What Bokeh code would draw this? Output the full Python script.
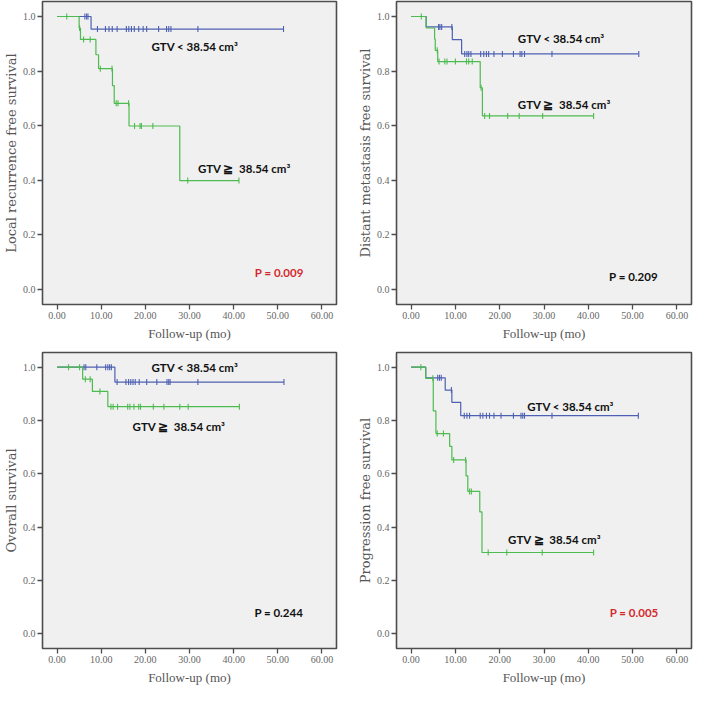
import numpy as np
from bokeh.plotting import figure
from bokeh.layouts import column, row
from bokeh.models import Range1d, FixedTicker, NumeralTickFormatter, Label
from bokeh.embed import file_html
from bokeh.resources import INLINE

# ---------------- data ----------------
x_ticks = [0, 10, 20, 30, 40, 50, 60]
y_ticks = [0.0, 0.2, 0.4, 0.6, 0.8, 1.0]

y_titles = ["Local recurrence free survival", "Distant metastasis free survival",
            "Overall survival", "Progression free survival"]
x_title = "Follow-up (mo)"
label_low = "GTV < 38.54 cm\u00b3"
label_high = "GTV \u2267\u00a0 38.54 cm\u00b3"
p_values = ["P = 0.009", "P = 0.209", "P = 0.244", "P = 0.005"]

# Local recurrence free survival
lrfs_low_t = [7.7]
lrfs_low_s = [0.954]
lrfs_low_c = [6.3, 6.7, 7.0, 9.15, 10.96, 11.76, 12.5, 13.6, 15.7, 16.25, 16.85, 17.5,
              18.5, 19.5, 20.3, 23.0, 24.8, 25.3, 25.8, 31.9, 51.3]
lrfs_high_t = [5.0, 5.3, 8.8, 9.4, 12.55, 12.95, 16.3, 27.8]
lrfs_high_s = [0.958, 0.916, 0.860, 0.809, 0.747, 0.682, 0.599, 0.399]
lrfs_high_c = [2.2, 5.1, 6.0, 7.5, 9.8, 12.45, 13.4, 13.8, 16.2, 17.55, 18.8, 19.1,
               21.7, 29.6, 41.2]

# Distant metastasis free survival
dmfs_low_t = [3.4, 9.3, 11.4]
dmfs_low_s = [0.962, 0.915, 0.863]
dmfs_low_c = [6.2, 6.5, 6.9, 9.2, 12.1, 12.6, 13.0, 13.5, 15.7, 16.4, 17.0, 17.5, 18.7,
              20.6, 23.1, 24.6, 25.0, 25.6, 31.8, 51.4]
dmfs_high_t = [3.4, 5.3, 5.45, 6.0, 15.6, 16.1]
dmfs_high_s = [0.958, 0.917, 0.876, 0.835, 0.739, 0.636]
dmfs_high_c = [2.3, 5.9, 6.3, 7.6, 8.1, 10.0, 12.5, 13.0, 13.8, 15.8, 16.6, 17.7, 21.8,
               24.4, 29.7, 41.2]

# Overall survival
os_low_t = [13.1]
os_low_s = [0.944]
os_low_c = [6.1, 6.5, 9.0, 11.0, 11.5, 11.9, 12.3, 13.6, 15.6, 16.2, 16.7, 17.2, 17.7,
            18.6, 20.3, 22.6, 24.9, 25.3, 25.6, 31.9, 51.4]
os_high_t = [5.8, 8.0, 11.5]
os_high_s = [0.955, 0.909, 0.852]
os_high_c = [2.6, 5.1, 6.4, 7.5, 9.7, 12.2, 12.7, 13.7, 16.0, 16.5, 17.4, 18.5, 18.9,
             21.8, 24.2, 27.8, 29.7, 41.3]

# Progression free survival
pfs_low_t = [3.3, 7.7, 9.2, 11.2]
pfs_low_s = [0.960, 0.914, 0.868, 0.818]
pfs_low_c = [6.0, 6.4, 6.8, 9.1, 12.0, 12.6, 13.2, 15.6, 16.2, 17.0, 17.7, 18.7, 20.3,
             23.1, 24.8, 25.2, 25.6, 31.8, 51.3]
pfs_high_t = [3.3, 5.0, 5.6, 8.7, 9.2, 12.4, 12.8, 15.5, 16.0]
pfs_high_s = [0.958, 0.836, 0.751, 0.703, 0.652, 0.592, 0.534, 0.457, 0.305]
pfs_high_c = [2.2, 4.9, 5.9, 7.3, 9.6, 12.3, 13.2, 13.6, 17.4, 21.6, 29.6, 41.2]

# ---------------- styling ----------------
BLUE = "#4d60b1"
GREEN = "#4dbb4f"
RED = "#d42a2e"
SERIF = "Liberation Serif"
SERIF_WIDE = "DejaVu Serif"
SANS = "Lato"


def surv_at(t, et, es):
    s = 1.0
    for ti, si in zip(et, es):
        if ti <= t:
            s = si
    return s


def add_curve(p, et, es, ct, color):
    last = max(ct + et)
    xs = [0.0] + list(et) + [last]
    ys = [1.0] + list(es) + [es[-1]]
    p.step(xs, ys, mode="after", line_color=color, line_width=1.2)
    cy = [surv_at(t, et, es) for t in ct]
    p.scatter(ct, cy, marker="dash", angle=np.pi / 2, size=6, line_color=color,
              line_width=1.1)


def make_fig(width, height, mbl, mbr, mbt, ytitle):
    p = figure(width=width, height=height, output_backend="svg", toolbar_location=None,
               x_range=Range1d(-3.3, 63.3), y_range=Range1d(-0.055, 1.055),
               min_border_left=mbl, min_border_right=mbr, min_border_top=mbt,
               min_border_bottom=0)
    p.background_fill_color = "#f0f0f0"
    p.border_fill_color = "white"
    p.outline_line_color = "#4d4d4d"
    p.outline_line_width = 1.6
    p.grid.visible = False
    p.xaxis.ticker = FixedTicker(ticks=x_ticks)
    p.yaxis.ticker = FixedTicker(ticks=y_ticks)
    p.xaxis.formatter = NumeralTickFormatter(format="0.00")
    p.yaxis.formatter = NumeralTickFormatter(format="0.0")
    for ax in (p.xaxis, p.yaxis):
        ax.axis_line_color = None
        ax.major_tick_in = 0
        ax.major_tick_out = 5
        ax.major_tick_line_color = "#4d4d4d"
        ax.major_tick_line_width = 1.3
        ax.minor_tick_line_color = None
        ax.major_label_text_font = SERIF
        ax.major_label_text_font_size = "10px"
        ax.major_label_text_color = "#666666"
        ax.axis_label_text_font_style = "normal"
        ax.axis_label_text_color = "#555555"
        ax.major_label_standoff = 2
    p.xaxis.axis_label = x_title
    p.xaxis.axis_label_text_font = SERIF
    p.xaxis.axis_label_text_font_size = "13px"
    p.xaxis.axis_label_standoff = 4
    p.yaxis.axis_label = ytitle
    p.yaxis.axis_label_text_font = SERIF_WIDE
    p.yaxis.axis_label_text_font_size = "13px"
    p.yaxis.axis_label_standoff = 1
    return p


def add_label(p, x, y, text, color="#111111"):
    p.add_layout(Label(x=x, y=y, text=text, text_font=SANS, text_font_style="bold",
                       text_font_size="11.5px", text_color=color,
                       text_align="left", text_baseline="middle"))


p1 = make_fig(346, 343, 0, 10, 1, y_titles[0])
add_curve(p1, lrfs_low_t, lrfs_low_s, lrfs_low_c, BLUE)
add_curve(p1, lrfs_high_t, lrfs_high_s, lrfs_high_c, GREEN)
add_label(p1, 21.4, 0.889, label_low)
add_label(p1, 31.9, 0.445, label_high)
add_label(p1, 44.8, 0.064, p_values[0], RED)

p2 = make_fig(347, 343, 50, 2, 1, y_titles[1])
add_curve(p2, dmfs_low_t, dmfs_low_s, dmfs_low_c, BLUE)
add_curve(p2, dmfs_high_t, dmfs_high_s, dmfs_high_c, GREEN)
add_label(p2, 24.1, 0.918, label_low)
add_label(p2, 24.1, 0.678, label_high)
add_label(p2, 44.7, 0.046, p_values[1])

p3 = make_fig(346, 344, 0, 10, 9, y_titles[2])
add_curve(p3, os_low_t, os_low_s, os_low_c, BLUE)
add_curve(p3, os_high_t, os_high_s, os_high_c, GREEN)
add_label(p3, 21.4, 0.998, label_low)
add_label(p3, 17.1, 0.777, label_high)
add_label(p3, 44.7, 0.080, p_values[2])

p4 = make_fig(347, 344, 50, 2, 9, y_titles[3])
add_curve(p4, pfs_low_t, pfs_low_s, pfs_low_c, BLUE)
add_curve(p4, pfs_high_t, pfs_high_s, pfs_high_c, GREEN)
add_label(p4, 26.2, 0.854, label_low)
add_label(p4, 21.9, 0.352, label_high)
add_label(p4, 44.85, 0.079, p_values[3], RED)

layout = column(row(p1, p2, spacing=0), row(p3, p4, spacing=0), spacing=0)

with open("out.html", "w") as f:
    f.write(file_html(layout, INLINE))
